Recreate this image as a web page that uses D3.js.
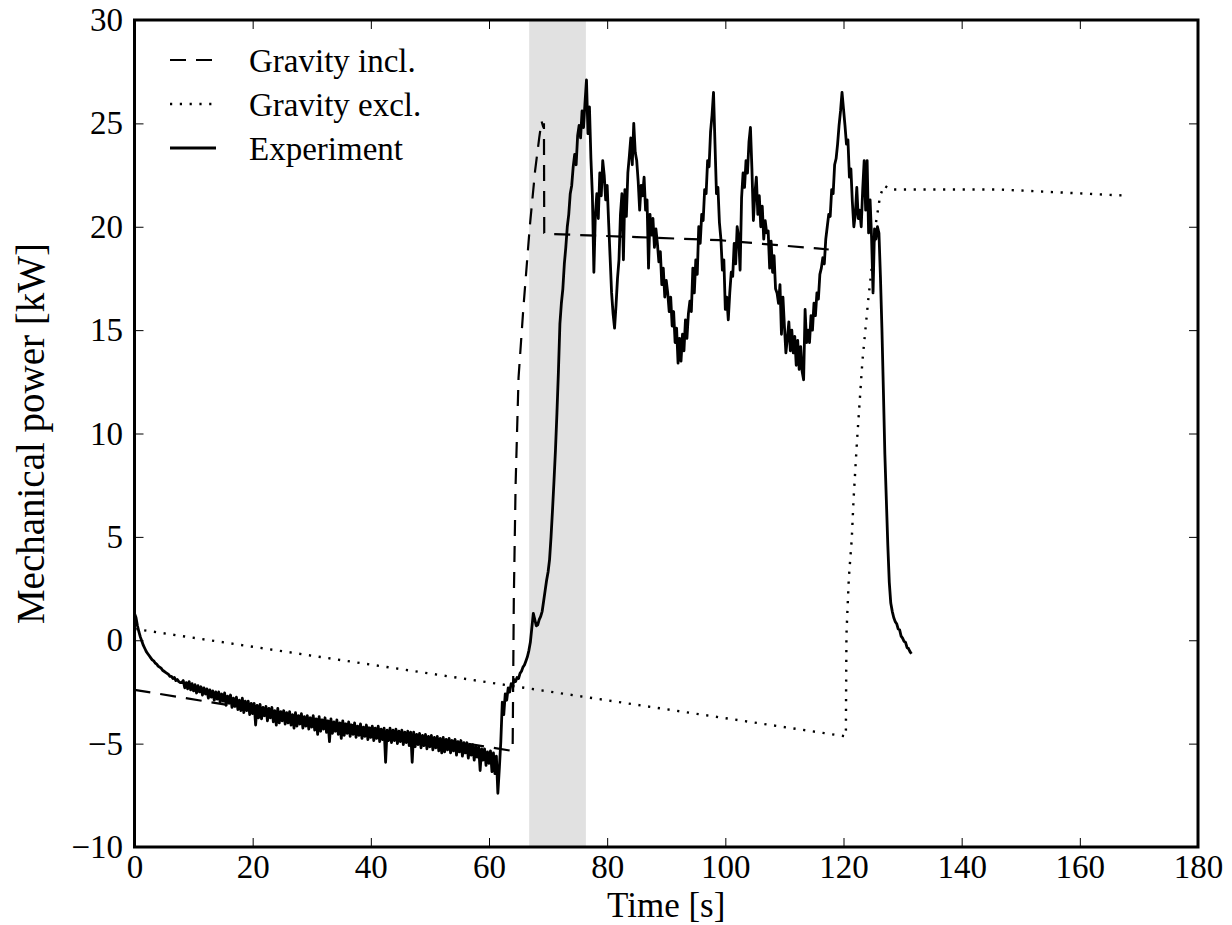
<!DOCTYPE html>
<head>
    <meta charset="utf-8">
    <script src="https://d3js.org/d3.v7.min.js"></script>
    <style>
        body { margin: 0; background: #fff; }
        text { font-family: "Liberation Serif", serif; fill: #000; }
    </style>
</head>
<body>

<svg width="1232" height="925"></svg>

<script>

    // experiment: sampled every 0.25 s starting at t = 0
    var expStart = 0,
        expStep = 0.25;
    var expPower = [
        1.3,
        1.1, 0.7, 0.4, 0.15,
        -0.05, -0.25, -0.4, -0.55,
        -0.65, -0.75, -0.85, -0.95,
        -1.0, -1.1, -1.15, -1.25,
        -1.3, -1.35, -1.45, -1.5,
        -1.55, -1.6, -1.65, -1.75,
        -1.75, -1.85, -1.8, -1.95,
        -1.9, -2.0, -2.05, -2.05,
        -1.95, -2.3, -2.05, -2.35,
        -2.0, -2.4, -2.1, -2.45,
        -2.15, -2.55, -2.2, -2.5,
        -2.25, -2.65, -2.3, -2.6,
        -2.35, -2.8, -2.4, -2.75,
        -2.45, -2.9, -2.5, -2.85,
        -2.5, -3.0, -2.6, -2.95,
        -2.55, -3.15, -2.7, -3.05,
        -2.65, -3.25, -2.8, -3.2,
        -2.75, -3.35, -2.9, -3.4,
        -2.8, -3.5, -2.95, -3.4,
        -2.95, -3.6, -3.05, -3.55,
        -3.05, -4.1, -3.15, -3.75,
        -3.1, -3.8, -3.25, -3.65,
        -3.2, -3.9, -3.3, -3.75,
        -3.25, -3.95, -3.4, -4.1,
        -3.3, -4.0, -3.45, -3.9,
        -3.4, -4.05, -3.5, -4.0,
        -3.45, -4.1, -3.6, -4.25,
        -3.5, -4.15, -3.65, -4.05,
        -3.55, -4.25, -3.7, -4.15,
        -3.65, -4.3, -3.75, -4.2,
        -3.65, -4.35, -3.8, -4.55,
        -3.7, -4.4, -3.85, -4.3,
        -3.75, -4.45, -3.9, -4.9,
        -3.8, -4.5, -3.95, -4.4,
        -3.85, -4.55, -4.0, -4.75,
        -3.9, -4.6, -4.05, -4.5,
        -3.95, -4.65, -4.1, -4.55,
        -4.0, -4.7, -4.15, -4.6,
        -4.05, -4.75, -4.2, -4.65,
        -4.1, -4.8, -4.25, -4.7,
        -4.15, -4.85, -4.25, -4.75,
        -4.15, -4.9, -4.3, -4.8,
        -4.25, -5.9, -4.35, -4.85,
        -4.25, -4.95, -4.35, -4.85,
        -4.3, -5.0, -4.4, -4.9,
        -4.35, -5.05, -4.45, -4.95,
        -4.4, -5.1, -4.45, -5.9,
        -4.45, -5.15, -4.55, -5.05,
        -4.5, -5.2, -4.6, -5.1,
        -4.55, -5.25, -4.65, -5.15,
        -4.6, -5.3, -4.7, -5.2,
        -4.65, -5.35, -4.75, -5.45,
        -4.7, -5.4, -4.8, -5.3,
        -4.75, -5.45, -4.85, -5.35,
        -4.8, -5.55, -4.9, -5.4,
        -4.85, -5.6, -4.95, -5.45,
        -4.95, -5.7, -5.05, -5.55,
        -5.05, -5.8, -5.15, -5.65,
        -5.15, -6.3, -5.25, -5.8,
        -5.25, -6.05, -5.4, -5.95,
        -5.35, -6.35, -5.45, -6.45,
        -5.6, -7.4, -6.2, -4.9,
        -3.0, -3.6, -2.6, -2.9,
        -2.3, -2.5, -2.1, -2.2,
        -1.9, -2.0, -1.8, -1.85,
        -1.6, -1.5, -1.3, -1.2,
        -1.0, -0.8, -0.5, -0.1,
        0.6, 1.3, 1.0, 0.7,
        0.75, 1.0, 1.15, 1.4,
        1.9, 2.4, 2.9, 3.3,
        3.9, 5.0, 6.3, 7.7,
        9.2, 11.0, 13.0, 15.3,
        16.3, 17.0, 18.2, 19.0,
        20.0, 20.6, 21.6, 22.0,
        22.9, 23.5, 23.0, 24.4,
        24.9, 24.3, 25.6, 24.8,
        26.0, 27.1, 24.5, 25.8,
        23.3, 21.5, 17.8, 20.6,
        21.6, 20.4, 22.6, 21.5,
        23.2, 22.5, 21.3, 22.0,
        20.2, 18.5, 16.8, 15.8,
        15.1, 16.2, 17.5, 18.4,
        20.6, 21.6, 18.4, 21.8,
        20.5, 22.6, 23.4, 24.3,
        23.0, 25.0, 23.6, 23.2,
        22.2, 20.8, 22.0, 21.5,
        22.4, 20.8, 21.3, 18.0,
        20.6, 19.6, 20.4, 19.0,
        19.9, 19.2, 18.3, 18.8,
        17.2, 18.0, 16.6, 17.4,
        16.8, 15.9, 16.6, 15.2,
        15.9, 14.4, 15.1, 13.4,
        14.6, 13.5, 14.8, 14.0,
        15.5, 14.6, 15.8, 16.4,
        15.9, 18.0, 16.8, 18.4,
        17.7, 20.0, 19.2, 20.6,
        20.3, 21.8, 21.6, 23.2,
        22.9, 24.6, 25.4, 26.5,
        24.0, 21.6, 21.9, 20.2,
        19.4, 17.9, 18.4, 16.0,
        16.6, 15.5, 16.8, 17.8,
        17.6, 19.2, 18.2, 20.0,
        19.5, 17.9, 21.4, 22.6,
        21.9, 23.2, 22.6, 24.1,
        24.8, 22.8, 20.3, 21.6,
        22.4, 20.6, 21.5, 20.0,
        21.0, 19.4, 20.3, 19.7,
        19.8, 18.0, 19.3, 17.8,
        18.6, 17.0, 16.8, 16.3,
        17.2, 14.8, 16.6, 15.2,
        13.9, 14.6, 15.4, 14.0,
        15.0, 13.9, 14.7, 13.3,
        14.5, 13.1, 14.2, 13.0,
        12.6, 16.0, 14.4, 15.0,
        14.4, 15.7, 15.0, 16.3,
        15.7, 16.8, 16.5, 17.7,
        18.0, 18.5, 18.2, 19.4,
        20.0, 20.6, 20.5, 21.8,
        21.6, 23.0, 23.3, 24.0,
        24.9, 25.6, 26.5, 25.7,
        24.9, 24.0, 24.2, 22.4,
        22.8, 21.2, 20.0, 20.6,
        21.9, 20.4, 20.8, 20.0,
        21.8, 23.2, 20.8, 23.2,
        19.7, 21.3, 19.5, 16.8,
        19.9, 19.4, 20.0, 19.7,
        17.6, 15.1, 12.1, 9.0,
        6.8, 4.6, 2.8, 1.8,
        1.4, 1.1, 0.9, 0.8,
        0.55, 0.5, 0.2, 0.1,
        -0.05, -0.1, -0.35, -0.4,
        -0.55, -0.65
    ];

    // model with gravity
    var inclTime  = [0, 63.9, 64.0, 64.2, 64.5, 65.0, 65.8, 66.9, 67.8, 68.5, 68.9, 69.2, 69.3, 69.35, 70.3, 85, 99, 115.5, 117.5];
    var inclPower = [-2.4, -5.35, -5.35, 2.0, 7.5, 12.7, 16.0, 20.0, 22.7, 24.3, 25.1, 24.8, 25.0, 19.7, 19.65, 19.5, 19.35, 18.95, 18.9];

    // model without gravity
    var exclTime  = [0, 120.4, 120.45, 120.5, 120.9, 121.4, 121.7, 122.3, 123.2, 124.2, 124.8, 125.5, 126.2, 126.9, 127.9, 146.5, 168.2];
    var exclPower = [0.55, -4.65, -2.0, 0.3, 3.0, 4.9, 6.8, 9.7, 13.5, 16.5, 18.1, 20.2, 21.5, 22.0, 21.8, 21.8, 21.5];

    // shaded interval
    var bandStart = 66.8,
        bandEnd = 76.4;

    var xTicks = [0, 20, 40, 60, 80, 100, 120, 140, 160, 180];
    var yTicks = [-10, -5, 0, 5, 10, 15, 20, 25, 30];
    var legendKeys = ["Gravity incl.", "Gravity excl.", "Experiment"];

    var svg = d3.select("svg"),
        margin = {top: 20, right: 34, bottom: 78, left: 134.5},
        width = +svg.attr("width") - margin.left - margin.right,
        height = +svg.attr("height") - margin.top - margin.bottom,
        g = svg.append("g").attr("transform", "translate(" + margin.left + "," + margin.top + ")");

    var x = d3.scaleLinear()
        .domain([0, 180])
        .range([0, width]);

    var y = d3.scaleLinear()
        .domain([-10, 30])
        .range([height, 0]);

    // gray band
    g.append("rect")
        .attr("x", x(bandStart))
        .attr("y", 0)
        .attr("width", x(bandEnd) - x(bandStart))
        .attr("height", height)
        .attr("fill", "#e1e1e1");

    var line = d3.line()
        .x(function(d) { return x(d[0]); })
        .y(function(d) { return y(d[1]); });

    var inclData = inclTime.map(function(t, i) { return [t, inclPower[i]]; });
    var exclData = exclTime.map(function(t, i) { return [t, exclPower[i]]; });
    var expData = expPower.map(function(v, i) { return [expStart + i * expStep, v]; });

    var styles = [
        {dash: "16,10", width: 2.2},
        {dash: "2.2,7.6", width: 2.4},
        {dash: null, width: 2.8}
    ];

    g.append("path")
        .datum(inclData)
        .attr("d", line)
        .attr("fill", "none")
        .attr("stroke", "#000")
        .attr("stroke-width", styles[0].width)
        .attr("stroke-dasharray", styles[0].dash);

    g.append("path")
        .datum(exclData)
        .attr("d", line)
        .attr("fill", "none")
        .attr("stroke", "#000")
        .attr("stroke-width", styles[1].width)
        .attr("stroke-dasharray", styles[1].dash);

    g.append("path")
        .datum(expData)
        .attr("d", line)
        .attr("fill", "none")
        .attr("stroke", "#000")
        .attr("stroke-width", styles[2].width)
        .attr("stroke-linejoin", "round");

    // axes, ticks pointing inward on all four sides
    var xAxis = g.append("g")
        .attr("transform", "translate(0," + height + ")")
        .call(d3.axisBottom(x).tickValues(xTicks).tickSizeInner(-9).tickSizeOuter(0).tickPadding(8));

    var yAxis = g.append("g")
        .call(d3.axisLeft(y).tickValues(yTicks).tickSizeInner(-9).tickSizeOuter(0).tickPadding(11.5));

    var topAxis = g.append("g")
        .call(d3.axisTop(x).tickValues(xTicks).tickSizeInner(-9).tickSizeOuter(0).tickFormat(""));

    var rightAxis = g.append("g")
        .attr("transform", "translate(" + width + ",0)")
        .call(d3.axisRight(y).tickValues(yTicks).tickSizeInner(-9).tickSizeOuter(0).tickFormat(""));

    [xAxis, yAxis, topAxis, rightAxis].forEach(function(a) {
        a.select(".domain").remove();
        a.selectAll(".tick line").attr("stroke", "#000").attr("stroke-width", 1);
        a.selectAll(".tick text")
            .attr("font-family", "Liberation Serif")
            .attr("font-size", 33)
            .attr("fill", "#000");
    });

    // frame
    g.append("rect")
        .attr("width", width)
        .attr("height", height)
        .attr("fill", "none")
        .attr("stroke", "#000")
        .attr("stroke-width", 3);

    // axis labels
    svg.append("text")
        .attr("x", margin.left + width / 2)
        .attr("y", 916.5)
        .attr("text-anchor", "middle")
        .attr("font-size", 35)
        .text("Time [s]");

    svg.append("text")
        .attr("transform", "translate(44," + (margin.top + height / 2) + ") rotate(-90)")
        .attr("text-anchor", "middle")
        .attr("font-size", 39)
        .text("Mechanical power [kW]");

    // legend
    var legend = svg.append("g").attr("transform", "translate(170,60)");

    legend.selectAll("line")
        .data(legendKeys)
        .enter()
        .append("line")
        .attr("x1", 0)
        .attr("x2", 46)
        .attr("y1", function(d, i) { return i * 44; })
        .attr("y2", function(d, i) { return i * 44; })
        .attr("stroke", "#000")
        .attr("stroke-width", function(d, i) { return styles[i].width; })
        .attr("stroke-dasharray", function(d, i) { return styles[i].dash; });

    legend.selectAll("text")
        .data(legendKeys)
        .enter()
        .append("text")
        .attr("x", 79)
        .attr("y", function(d, i) { return i * 44 + 11.5; })
        .attr("font-size", 33)
        .text(function(d) { return d; });

</script>
</body>
